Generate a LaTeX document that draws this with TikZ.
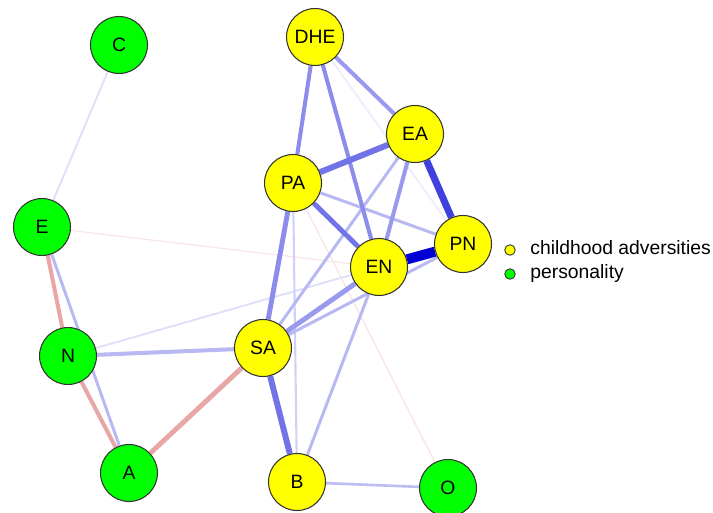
\documentclass[tikz,border=0pt]{standalone}
\usepackage{fontspec}
\setmainfont{Liberation Sans}
\usetikzlibrary{backgrounds}
\definecolor{qblue}{RGB}{0,0,213}
\definecolor{qred}{RGB}{191,0,0}
\definecolor{advyel}{RGB}{255,255,0}
\definecolor{pergrn}{RGB}{0,255,0}
\tikzset{
  adv/.style={circle,draw=black!80,line width=0.6pt,fill=advyel,minimum size=1.14cm,inner sep=0pt,font=\fontsize{11}{13}\selectfont},
  pers/.style={adv,fill=pergrn},
  pe/.style 2 args={draw=qblue!#1!white,line width=#2pt},
  ne/.style 2 args={draw=qred!#1!white,line width=#2pt},
  dot/.style={circle,draw=black!80,line width=0.5pt,minimum size=0.21cm,inner sep=0pt},
  lab/.style={anchor=mid west,inner sep=0pt,font=\fontsize{11}{13}\selectfont}
}
\begin{document}
\begin{tikzpicture}[x=0.02cm,y=-0.02cm]
    \useasboundingbox (0,0) rectangle (713,513);
    \node[pers] (C) at (119,45) {C};
    \node[adv] (DHE) at (315,37) {DHE};
    \node[adv] (EA) at (415,134) {EA};
    \node[adv] (PA) at (293,183) {PA};
    \node[adv] (PN) at (463,244) {PN};
    \node[adv] (EN) at (379,267) {EN};
    \node[pers] (E) at (42,227) {E};
    \node[pers] (N) at (68,356) {N};
    \node[adv] (SA) at (263,348) {SA};
    \node[pers] (A) at (129,473) {A};
    \node[adv] (B) at (297,482) {B};
    \node[pers] (O) at (448,488) {O};
    \begin{scope}[on background layer]
    \draw[ne={10}{0.7}] (E) -- (EN);
    \draw[ne={10}{0.8}] (PA) -- (O);
    \draw[pe={8}{0.9}] (DHE) -- (PN);
    \draw[pe={12}{1.1}] (C) -- (E);
    \draw[pe={12}{1.1}] (N) -- (EN);
    \draw[pe={18}{1.2}] (PA) -- (B);
    \draw[pe={26}{1.5}] (B) -- (O);
    \draw[pe={28}{1.7}] (E) -- (A);
    \draw[pe={28}{1.7}] (SA) -- (EA);
    \draw[pe={28}{1.7}] (SA) -- (PN);
    \draw[pe={28}{1.7}] (PA) -- (PN);
    \draw[pe={28}{1.7}] (EN) -- (B);
    \draw[pe={28}{2.3}] (N) -- (SA);
    \draw[pe={40}{2.3}] (DHE) -- (EA);
    \draw[pe={40}{2.3}] (EA) -- (EN);
    \draw[pe={45}{2.3}] (DHE) -- (PA);
    \draw[pe={45}{2.3}] (DHE) -- (EN);
    \draw[pe={45}{2.8}] (SA) -- (PA);
    \draw[pe={40}{2.8}] (SA) -- (EN);
    \draw[pe={55}{2.8}] (PA) -- (EN);
    \draw[pe={55}{3.4}] (PA) -- (EA);
    \draw[pe={55}{3.4}] (SA) -- (B);
    \draw[pe={75}{4}] (EA) -- (PN);
    \draw[pe={100}{5.7}] (EN) -- (PN);
    \draw[ne={35}{2.3}] (E) -- (N);
    \draw[ne={35}{2.3}] (N) -- (A);
    \draw[ne={35}{2.8}] (A) -- (SA);
    \end{scope}
    \node[dot,fill=advyel] (ldA) at (510,250) {};
    \node[dot,fill=pergrn] (ldP) at (510,274) {};
    \node[lab] (ltA) at (530,250) {childhood adversities};
    \node[lab] (ltP) at (530,274) {personality};
\end{tikzpicture}
\end{document}
